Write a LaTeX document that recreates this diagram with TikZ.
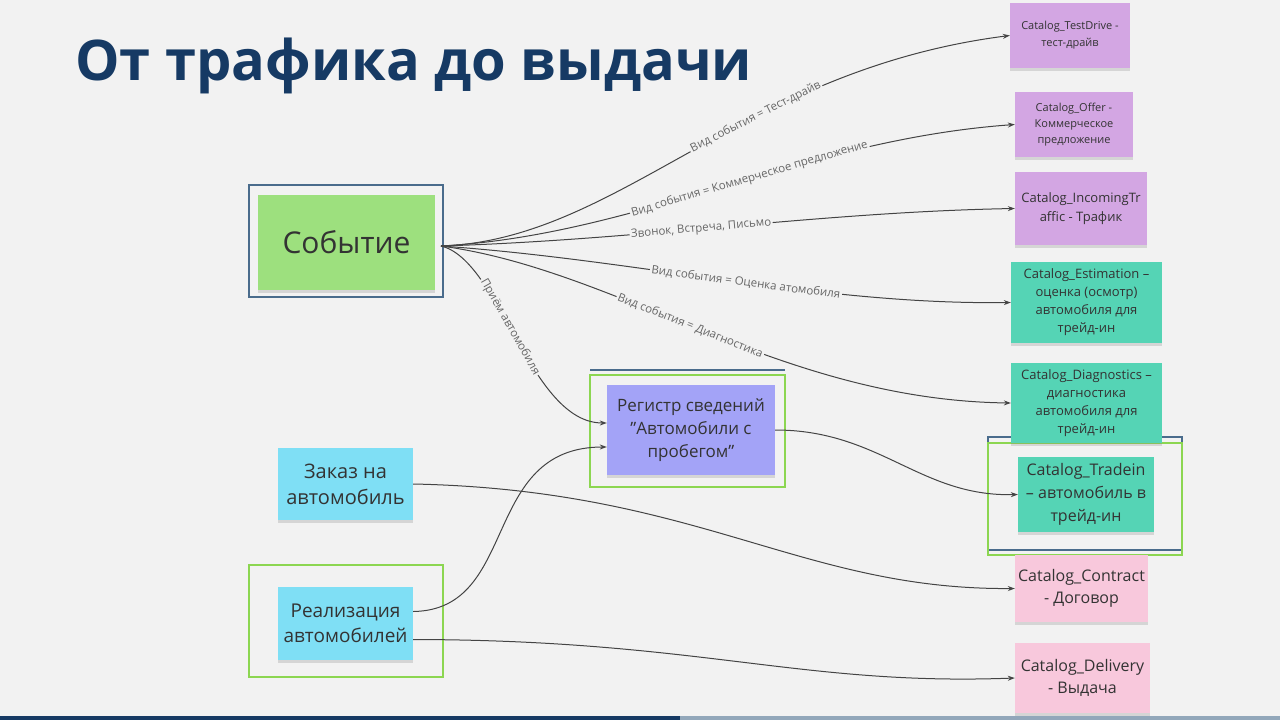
\documentclass[tikz,border=0pt]{standalone}
\usepackage{fontspec}
\setmainfont{Open Sans}[Ligatures=Common]
\usetikzlibrary{arrows.meta,shadows}
\definecolor{bg}{HTML}{F2F2F2}
\definecolor{ttl}{HTML}{163A64}
\definecolor{grn}{HTML}{9DE07E}
\definecolor{vio}{HTML}{A3A3F7}
\definecolor{cya}{HTML}{7FDFF5}
\definecolor{pur}{HTML}{D3A6E3}
\definecolor{tea}{HTML}{55D4B5}
\definecolor{pnk}{HTML}{F8C8DC}
\definecolor{frm}{HTML}{4A6C8C}
\definecolor{lg}{HTML}{8CD651}
\definecolor{ln}{HTML}{444444}
\begin{document}
\begin{tikzpicture}[x=1pt,y=-1pt,
  note/.style={inner sep=2pt,align=center,text=black!80,drop shadow={opacity=0.25,shadow xshift=0pt,shadow yshift=-3pt}},
  conn/.style={draw=ln,line width=1pt,-{Stealth[length=7pt,width=5pt]}},
  lbl/.style={sloped,fill=bg,inner sep=1.5pt,font=\fontsize{11.5}{12}\selectfont,text=black!60}]
\fill[bg] (0,0) rectangle (1280,720);
\fill[ttl] (0,716) rectangle (680,720);
\fill[frm!60] (680,716) rectangle (1280,720);
\node[anchor=base west,inner sep=0,text=ttl,font=\fontsize{56}{60}\selectfont\bfseries] (title) at (75,80) {От трафика до выдачи};
% frames
\draw[frm,line width=2pt] (249,185) rectangle (443,297);
\draw[frm,line width=2pt] (590,370) -- (785,370);
\draw[lg,line width=2pt] (590,375) rectangle (785,487);
\draw[lg,line width=2pt] (249,565) rectangle (443,677);
\draw[frm,line width=2pt] (988,437) rectangle (1182,550);
\draw[lg,line width=2pt] (988,443) rectangle (1182,555);
% nodes
\node[note,fill=grn,minimum width=177,minimum height=95,font=\fontsize{30}{34}\selectfont] (ev) at (346.5,242.5) {Событие};
\node[note,fill=vio,minimum width=168,minimum height=90,font=\fontsize{17}{23}\selectfont] (reg) at (691,430) {Регистр сведений\\"Автомобили с\\пробегом"};
\node[note,fill=cya,minimum width=135,minimum height=72,font=\fontsize{20}{26}\selectfont] (ord) at (345.5,484) {Заказ на\\автомобиль};
\node[note,fill=cya,minimum width=135,minimum height=73,font=\fontsize{19}{25}\selectfont] (real) at (345.5,623.5) {Реализация\\автомобилей};
\node[note,fill=pur,minimum width=120,minimum height=65,font=\fontsize{11}{17}\selectfont] (td) at (1070,35.5) {Catalog\_TestDrive -\\тест-драйв};
\node[note,fill=pur,minimum width=118,minimum height=65,font=\fontsize{11}{16}\selectfont] (of) at (1074,124.5) {Catalog\_Offer -\\Коммерческое\\предложение};
\node[note,fill=pur,minimum width=132,minimum height=73,font=\fontsize{13}{19}\selectfont] (inc) at (1081,208.5) {Catalog\_IncomingTr\\affic - Трафик};
\node[note,fill=tea,minimum width=151,minimum height=81,font=\fontsize{13}{18}\selectfont] (est) at (1086.5,302.5) {Catalog\_Estimation –\\оценка (осмотр)\\автомобиля для\\трейд-ин};
\node[note,fill=tea,minimum width=151,minimum height=80,font=\fontsize{13}{18}\selectfont] (dia) at (1086.5,403) {Catalog\_Diagnostics –\\диагностика\\автомобиля для\\трейд-ин};
\node[note,fill=tea,minimum width=136,minimum height=75,font=\fontsize{16}{23}\selectfont] (tr) at (1086,494.5) {Catalog\_Tradein\\– автомобиль в\\трейд-ин};
\node[note,fill=pnk,minimum width=133,minimum height=67,font=\fontsize{16}{22}\selectfont] (con) at (1081.5,588.5) {Catalog\_Contract\\- Договор};
\node[note,fill=pnk,minimum width=135,minimum height=70,font=\fontsize{16}{22}\selectfont] (del) at (1082.5,678) {Catalog\_Delivery\\- Выдача};
\coordinate (s) at (441,246);
% edges
\draw[conn] (s) .. controls (620,240) and (740,70) .. node[lbl,pos=0.62] {Вид события = Тест-драйв} (td.west);
\draw[conn] (s) .. controls (640,235) and (800,140) .. node[lbl,pos=0.55] {Вид события = Коммерческое предложение} (of.west);
\draw[conn] (s) .. controls (640,240) and (820,212) .. node[lbl,pos=0.45] {Звонок, Встреча, Письмо} (inc.west);
\draw[conn] (s) .. controls (640,260) and (820,305) .. node[lbl,pos=0.53] {Вид события = Оценка атомобиля} (est.west);
\draw[conn] (s) .. controls (620,270) and (780,400) .. node[lbl,pos=0.47] {Вид события = Диагностика} (dia.west);
\draw[conn] (s) .. controls (500,260) and (530,423) .. node[lbl,pos=0.45] {Приём автомобиля} ([yshift=7]reg.west);
\draw[conn] (reg.east) .. controls (880,430) and (920,497) .. (tr.west);
\draw[conn] (ord.east) .. controls (700,490) and (800,590) .. (con.west);
\draw[conn] ([yshift=12]real.east) .. controls (520,610) and (480,447) .. ([yshift=-17]reg.west);
\draw[conn] ([yshift=-16]real.east) .. controls (700,640) and (800,686) .. (del.west);
\end{tikzpicture}
\end{document}
